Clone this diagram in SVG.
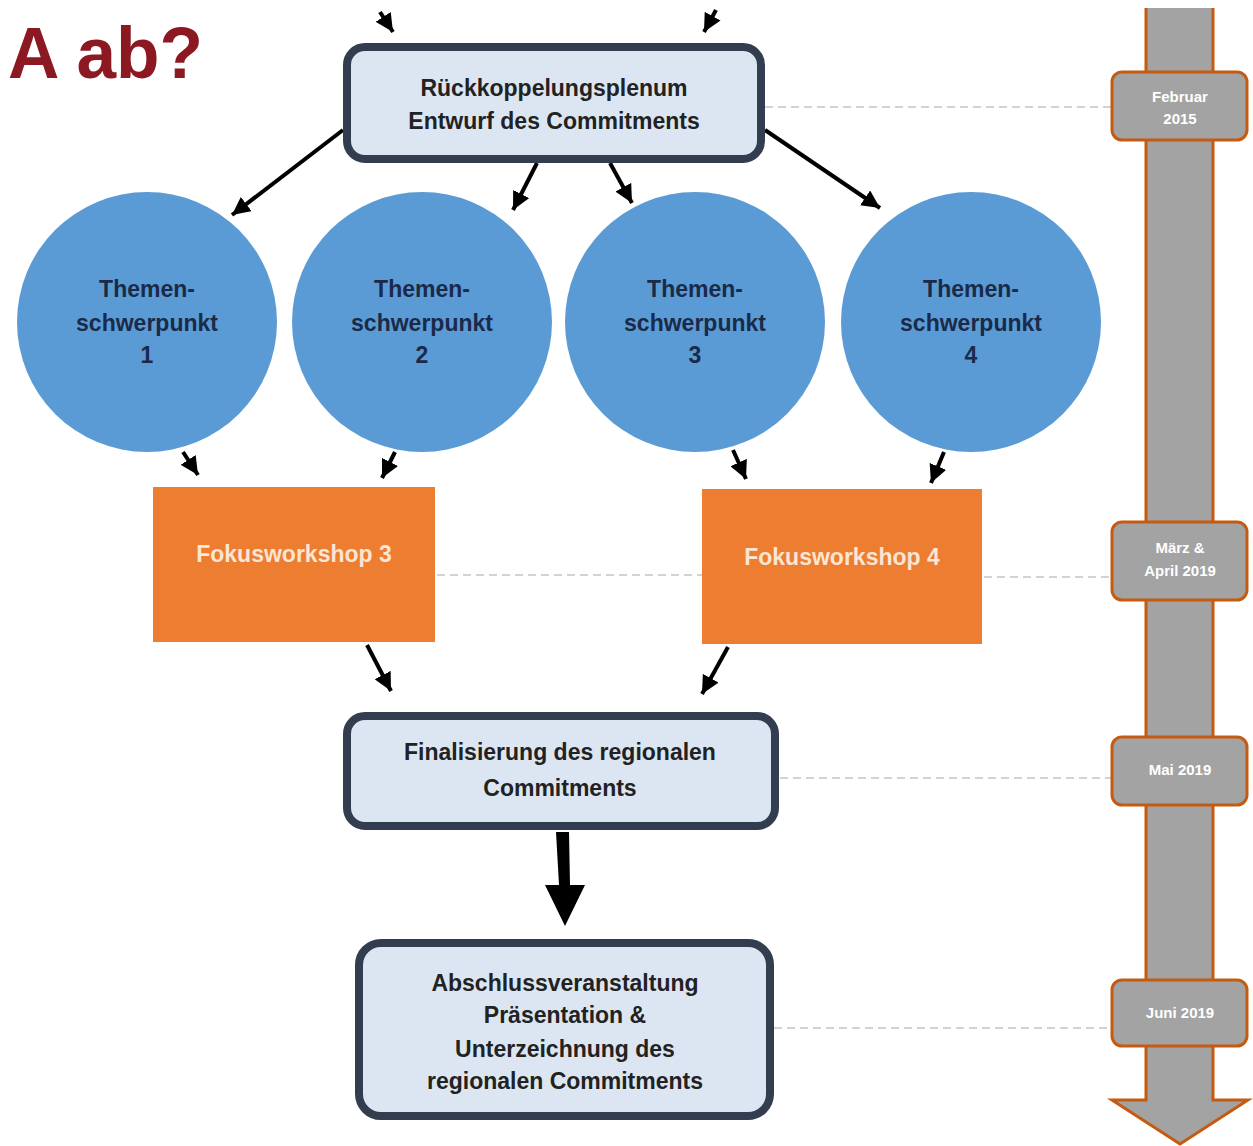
<svg xmlns="http://www.w3.org/2000/svg" width="1253" height="1146" viewBox="0 0 1253 1146">
<style>
.box{fill:#dce6f2;stroke:#323e4f;stroke-width:8}
.circ{fill:#5b9bd5}
.fw{fill:#ed7d31}
.tl{fill:#a3a3a3;stroke:#c55a11;stroke-width:3}
.t{font-family:"Liberation Sans",Arial,sans-serif;font-weight:bold;text-anchor:middle}
.bt{font-size:23px;fill:#222222}
.ct{font-size:23px;fill:#1a2a48}
.ft{font-size:23px;fill:#fbe5d3}
.tt{font-size:15px;fill:#ffffff}
.c{stroke:#000;stroke-width:4;fill:none;marker-end:url(#ah)}
.dash{stroke:#c4c4c4;stroke-width:1.5;stroke-dasharray:8 5;fill:none}
</style>
<defs>
<marker id="ah" markerUnits="userSpaceOnUse" markerWidth="20" markerHeight="18" refX="18" refY="9" orient="auto">
<path d="M0,0 L18,9 L0,18 Z" fill="#000"/>
</marker>
</defs>
<rect width="1253" height="1146" fill="#ffffff"/>
<text x="8" y="78" font-family="Liberation Sans,Arial,sans-serif" font-weight="bold" font-size="72" fill="#8c1822" textLength="195" lengthAdjust="spacingAndGlyphs">A ab?</text>

<g id="timeline">
<path d="M1146,8 L1213,8 L1213,1100 L1248,1100 L1180,1144 L1112,1100 L1146,1100 Z" fill="#a3a3a3"/>
<path d="M1146,8 L1146,1100 L1112,1100 L1180,1144 L1248,1100 L1213,1100 L1213,8" fill="none" stroke="#c55a11" stroke-width="3"/>
</g>

<g id="dashes">
<path class="dash" d="M765,107 L1112,107"/>
<path class="dash" d="M437,575 L702,575"/>
<path class="dash" d="M984,577 L1112,577"/>
<path class="dash" d="M780,778 L1112,778"/>
<path class="dash" d="M774,1028 L1112,1028"/>
</g>

<g id="connectors">
<path class="c" d="M380,12 L393,32"/>
<path class="c" d="M716,10 L704,32"/>
<path class="c" d="M343,130 L232,215"/>
<path class="c" d="M537,163 L513,210"/>
<path class="c" d="M610,163 L632,203"/>
<path class="c" d="M765,130 L880,208"/>
<path class="c" d="M183,452 L198,475"/>
<path class="c" d="M395,452 L382,478"/>
<path class="c" d="M733,450 L746,479"/>
<path class="c" d="M944,452 L931,483"/>
<path class="c" d="M367,645 L391,691"/>
<path class="c" d="M728,647 L702,694"/>
<path d="M556,832 L569,832 L570,885 L585,885 L565,926 L545,885 L559,885 Z" fill="#000"/>
</g>

<g id="n-rueck">
<rect class="box" x="347" y="47" width="414" height="112" rx="18"/>
<text class="t bt" x="554" y="96">Rückkoppelungsplenum</text>
<text class="t bt" x="554" y="129">Entwurf des Commitments</text>
</g>

<g id="n-t1">
<circle class="circ" cx="147" cy="322" r="130"/>
<text class="t ct" x="147" y="297">Themen-</text>
<text class="t ct" x="147" y="331">schwerpunkt</text>
<text class="t ct" x="147" y="363">1</text>
</g>
<g id="n-t2">
<circle class="circ" cx="422" cy="322" r="130"/>
<text class="t ct" x="422" y="297">Themen-</text>
<text class="t ct" x="422" y="331">schwerpunkt</text>
<text class="t ct" x="422" y="363">2</text>
</g>
<g id="n-t3">
<circle class="circ" cx="695" cy="322" r="130"/>
<text class="t ct" x="695" y="297">Themen-</text>
<text class="t ct" x="695" y="331">schwerpunkt</text>
<text class="t ct" x="695" y="363">3</text>
</g>
<g id="n-t4">
<circle class="circ" cx="971" cy="322" r="130"/>
<text class="t ct" x="971" y="297">Themen-</text>
<text class="t ct" x="971" y="331">schwerpunkt</text>
<text class="t ct" x="971" y="363">4</text>
</g>

<g id="n-fw3">
<rect class="fw" x="153" y="487" width="282" height="155"/>
<text class="t ft" x="294" y="562">Fokusworkshop 3</text>
</g>
<g id="n-fw4">
<rect class="fw" x="702" y="489" width="280" height="155"/>
<text class="t ft" x="842" y="565">Fokusworkshop 4</text>
</g>

<g id="n-final">
<rect class="box" x="347" y="716" width="428" height="110" rx="18"/>
<text class="t bt" x="560" y="760">Finalisierung des regionalen</text>
<text class="t bt" x="560" y="796">Commitments</text>
</g>

<g id="n-abschluss">
<rect class="box" x="359" y="943" width="411" height="173" rx="22"/>
<text class="t bt" x="565" y="991">Abschlussveranstaltung</text>
<text class="t bt" x="565" y="1023">Präsentation &amp;</text>
<text class="t bt" x="565" y="1057">Unterzeichnung des</text>
<text class="t bt" x="565" y="1089">regionalen Commitments</text>
</g>

<g id="tl-feb">
<rect class="tl" x="1112" y="72" width="135" height="68" rx="10"/>
<text class="t tt" x="1180" y="102">Februar</text>
<text class="t tt" x="1180" y="124">2015</text>
</g>
<g id="tl-mar">
<rect class="tl" x="1112" y="522" width="135" height="78" rx="10"/>
<text class="t tt" x="1180" y="553">März &amp;</text>
<text class="t tt" x="1180" y="576">April 2019</text>
</g>
<g id="tl-mai">
<rect class="tl" x="1112" y="737" width="135" height="68" rx="10"/>
<text class="t tt" x="1180" y="775">Mai 2019</text>
</g>
<g id="tl-jun">
<rect class="tl" x="1112" y="980" width="135" height="66" rx="10"/>
<text class="t tt" x="1180" y="1018">Juni 2019</text>
</g>
</svg>
